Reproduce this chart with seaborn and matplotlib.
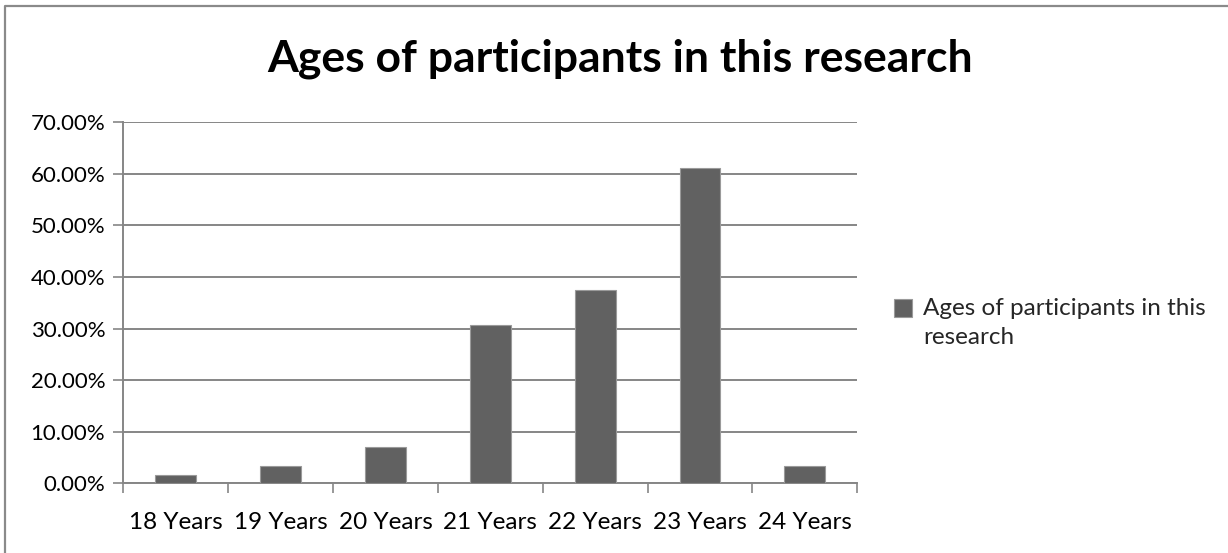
import matplotlib
matplotlib.use("Agg")
import matplotlib.pyplot as plt
import matplotlib.ticker as mticker
from matplotlib.lines import Line2D
import numpy as np
import pandas as pd
import seaborn as sns

# Age groups and the share of participants in each (percent)
age_groups = ["18 Years", "19 Years", "20 Years", "21 Years", "22 Years", "23 Years", "24 Years"]
shares = [1.6, 3.4, 7.0, 30.6, 37.4, 61.2, 3.4]
series_name = "Ages of participants in this research"
y_ticks = [0, 10, 20, 30, 40, 50, 60, 70]

df = pd.DataFrame({"age": age_groups, "share": shares})

sns.set_theme(style="white")
plt.rcParams["font.family"] = ["Lato", "DejaVu Sans"]

W, H = 1228, 553
fig = plt.figure(figsize=(W / 100, H / 100), dpi=100)
ax = fig.add_axes([123.3 / W, 1 - 483.3 / H, (857.3 - 123.3) / W, (483.3 - 122.3) / H])

grey_line = "#868686"
bar_color = "#616161"

sns.barplot(data=df, x="age", y="share", color=bar_color, width=0.39,
            edgecolor="#9a9a9a", linewidth=0.8, saturation=1,
            label=series_name, ax=ax, zorder=3)

ax.set_xlim(-0.5, len(age_groups) - 0.5)
ax.set_ylim(0, 70)
ax.set_yticks(y_ticks)
ax.yaxis.set_major_formatter(mticker.PercentFormatter(decimals=2))
ax.grid(axis="y", color=grey_line, linewidth=1.4, zorder=0)
ax.set_axisbelow(True)
ax.set_xlabel("")
ax.set_ylabel("")

for side in ["top", "right"]:
    ax.spines[side].set_visible(False)
for side in ["left", "bottom"]:
    ax.spines[side].set_color(grey_line)
    ax.spines[side].set_linewidth(1.4)

# category boundary ticks on the x axis, labels at the centres
ax.set_xticks(np.arange(-0.5, len(age_groups), 1.0), minor=True)
ax.tick_params(axis="x", which="minor", length=7, width=1.2, color=grey_line, bottom=True)
ax.tick_params(axis="x", which="major", length=0, pad=21, labelsize=17.5, labelcolor="#000000")
ax.tick_params(axis="y", which="major", length=7, width=1.2, color=grey_line, left=True,
               pad=6, labelsize=16, labelcolor="#000000")

# chart title
fig.text(0.505, 1 - 71.7 / H, series_name, ha="center", va="baseline",
         fontsize=32, fontweight="bold", color="#000000")

# legend to the right of the plot area
handles, _ = ax.get_legend_handles_labels()
leg_size = 17.5
leg = ax.legend(handles[:1], ["Ages of participants in this\nresearch"],
                loc="upper left", bbox_to_anchor=(872 / W, 1 - 276 / H),
                bbox_transform=fig.transFigure, frameon=False, fontsize=leg_size,
                handlelength=0.75, handleheight=0.75, handletextpad=0.45,
                labelspacing=0.3)
for t in leg.get_texts():
    t.set_linespacing(1.5)
# put the colour square beside the first line of the wrapped label
for h in leg.legend_handles:
    h.set_y(h.get_y() + 0.62 * leg_size)

# outer chart frame: only its top and left edges fall inside the image
fx, fy = 5 / W, 1 - 6 / H
fig.add_artist(Line2D([fx, fx, 1.2], [-0.2, fy, fy], transform=fig.transFigure,
                      color="#8a8a8a", linewidth=1.6))

fig.savefig("out.png", dpi=100)
